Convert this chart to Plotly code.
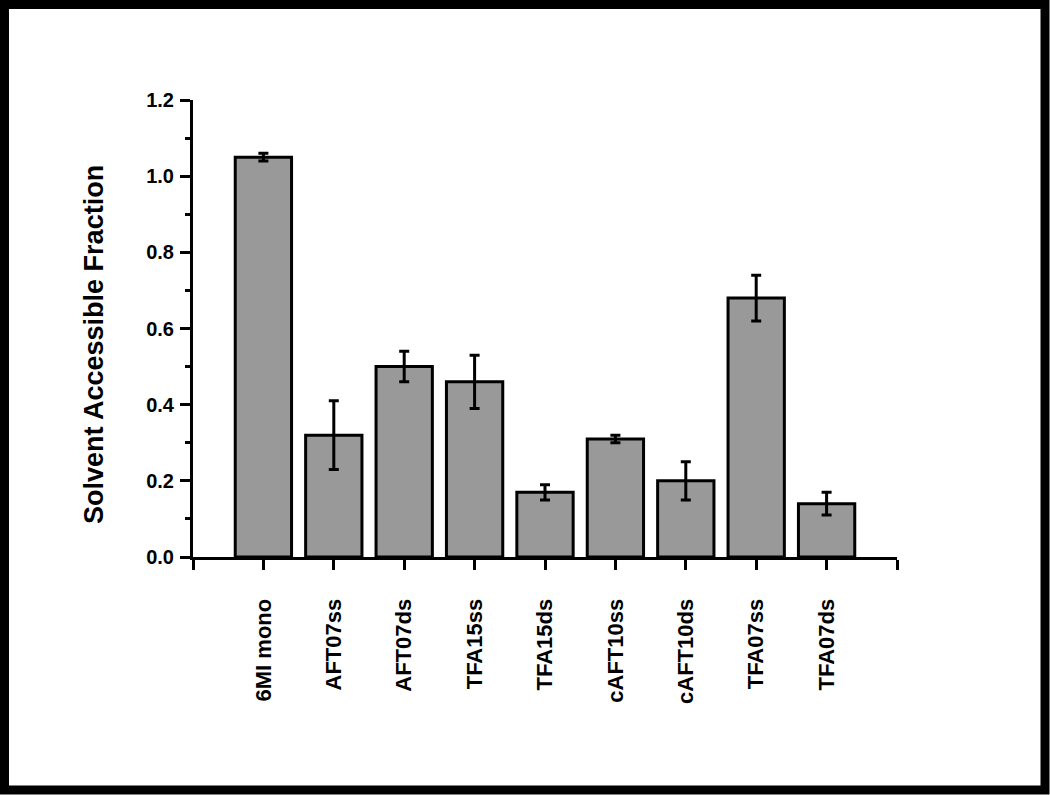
import plotly.graph_objects as go

categories = ["6MI mono", "AFT07ss", "AFT07ds", "TFA15ss", "TFA15ds",
              "cAFT10ss", "cAFT10ds", "TFA07ss", "TFA07ds"]
values = [1.05, 0.32, 0.50, 0.46, 0.17, 0.31, 0.20, 0.68, 0.14]
errors = [0.01, 0.09, 0.04, 0.07, 0.02, 0.01, 0.05, 0.06, 0.03]
y_ticks = [0.0, 0.2, 0.4, 0.6, 0.8, 1.0, 1.2]
y_ticktext = ["0.0", "0.2", "0.4", "0.6", "0.8", "1.0", "1.2"]
y_title = "Solvent Accessible Fraction"

W, H = 1050, 795
L, R, T, B = 193, 153, 100, 238
pw, ph = W - L - R, H - T - B

positions = list(range(len(categories)))

fig = go.Figure(go.Bar(
    x=positions, y=values, width=0.8,
    marker=dict(color="#999999", line=dict(color="black", width=3)),
    error_y=dict(type="data", array=errors, visible=True,
                 color="black", thickness=3, width=5),
))

font = "Liberation Sans, Arial, sans-serif"

fig.update_layout(
    width=W, height=H,
    margin=dict(l=L, r=R, t=T, b=B, pad=0),
    paper_bgcolor="white", plot_bgcolor="white",
    showlegend=False,
    xaxis=dict(
        range=[-1, len(categories)],
        tickvals=[-1] + positions + [len(categories)],
        ticktext=[""] + categories + [""],
        tickangle=-90,
        ticks="outside", ticklen=10, tickwidth=3, tickcolor="black",
        showline=True, linecolor="black", linewidth=3,
        showgrid=False, zeroline=False,
        tickfont=dict(family=font, size=22, color="black", weight="bold"),
        ticklabelstandoff=20,
    ),
    yaxis=dict(
        range=[0, 1.2],
        tickvals=y_ticks, ticktext=y_ticktext,
        ticks="outside", ticklen=10, tickwidth=3, tickcolor="black",
        minor=dict(ticks="outside", ticklen=5, tickwidth=3, tickcolor="black", dtick=0.1),
        showline=True, linecolor="black", linewidth=3,
        showgrid=False, zeroline=False,
        tickfont=dict(family=font, size=20, color="black", weight="bold"),
        ticklabelstandoff=2,
    ),
    annotations=[dict(
        text=y_title, textangle=-90, showarrow=False,
        xref="paper", yref="paper",
        x=(94 - L) / pw, y=(H - B - 345) / ph,
        xanchor="center", yanchor="middle",
        font=dict(family=font, size=27, color="black", weight="bold"),
    )],
    shapes=[dict(
        type="rect", xref="paper", yref="paper",
        x0=(4.5 - L) / pw, x1=(1045 - L) / pw,
        y0=(H - 790 - B) / ph, y1=(H - 4.5 - B) / ph,
        line=dict(color="black", width=9), fillcolor="rgba(0,0,0,0)",
        layer="above",
    )],
)

fig.write_html("out.html",
               config={"displayModeBar": False},
               post_script="document.body.style.margin='0';document.body.style.overflow='hidden';")
